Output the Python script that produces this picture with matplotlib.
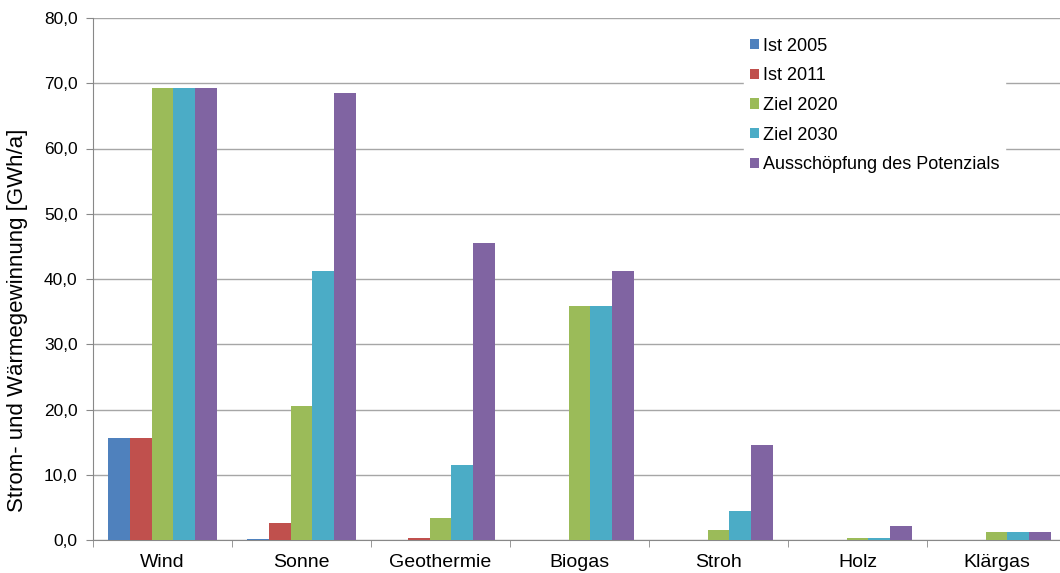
import numpy as np
import matplotlib
matplotlib.use("Agg")
import matplotlib.pyplot as plt
from matplotlib.ticker import FuncFormatter, FixedLocator

plt.rcParams['font.family'] = ['Liberation Sans', 'DejaVu Sans']

categories = ['Wind', 'Sonne', 'Geothermie', 'Biogas', 'Stroh', 'Holz', 'Klärgas']
series = ['Ist 2005', 'Ist 2011', 'Ziel 2020', 'Ziel 2030', 'Ausschöpfung des Potenzials']
ist_2005 = [15.6, 0.2, 0.0, 0.0, 0.0, 0.0, 0.0]
ist_2011 = [15.6, 2.6, 0.3, 0.0, 0.0, 0.0, 0.0]
ziel_2020 = [69.3, 20.5, 3.4, 35.9, 1.5, 0.3, 1.3]
ziel_2030 = [69.3, 41.2, 11.5, 35.9, 4.4, 0.3, 1.3]
potenzial = [69.3, 68.5, 45.5, 41.2, 14.6, 2.1, 1.3]
colors = ['#4F81BD', '#C0504D', '#9BBB59', '#4BACC6', '#8064A2']

fig = plt.figure(figsize=(10.6, 5.73), dpi=100)
W, H = 1060, 573
ax = fig.add_axes([93 / W, (H - 540) / H, 973 / W, 522 / H])

x = np.arange(len(categories))
bw = 0.156
data = [ist_2005, ist_2011, ziel_2020, ziel_2030, potenzial]
for i, (vals, col, name) in enumerate(zip(data, colors, series)):
    ax.bar(x + (i - 2) * bw, vals, bw, color=col, label=name, zorder=3)

ax.set_xlim(-0.5, len(categories) - 0.5)
ax.set_ylim(0, 80)
ax.set_yticks(np.arange(0, 81, 10))
ax.yaxis.set_major_formatter(FuncFormatter(lambda v, p: f"{v:.1f}".replace('.', ',')))
ax.grid(axis='y', color='#a6a6a6', linewidth=1, zorder=0)

ax.set_xticks(x)
ax.set_xticklabels(categories)
ax.xaxis.set_minor_locator(FixedLocator(np.arange(-0.5, len(categories), 1.0)))
ax.tick_params(axis='x', which='major', length=0, pad=10, labelsize=14, colors='black')
ax.tick_params(axis='x', which='minor', length=5, color='#888888', direction='out')
ax.tick_params(axis='y', length=5, color='#888888', labelsize=12.5, pad=6)

for s in ['top', 'right']:
    ax.spines[s].set_visible(False)
for s in ['left', 'bottom']:
    ax.spines[s].set_color('#888888')

ax.set_ylabel('Strom- und Wärmegewinnung [GWh/a]', fontsize=16)
ax.yaxis.set_label_coords(-0.067, 0.421)

leg = ax.legend(loc='upper left', bbox_to_anchor=(0.66, 0.99), frameon=True,
                fontsize=13, handlelength=0.5, handleheight=0.5, handletextpad=0.25,
                labelspacing=0.7, borderpad=0.3, fancybox=False)
leg.get_frame().set_edgecolor('white')
leg.get_frame().set_facecolor('white')
leg.get_frame().set_alpha(1)
leg.set_zorder(5)

fig.savefig('out.png', dpi=100)
